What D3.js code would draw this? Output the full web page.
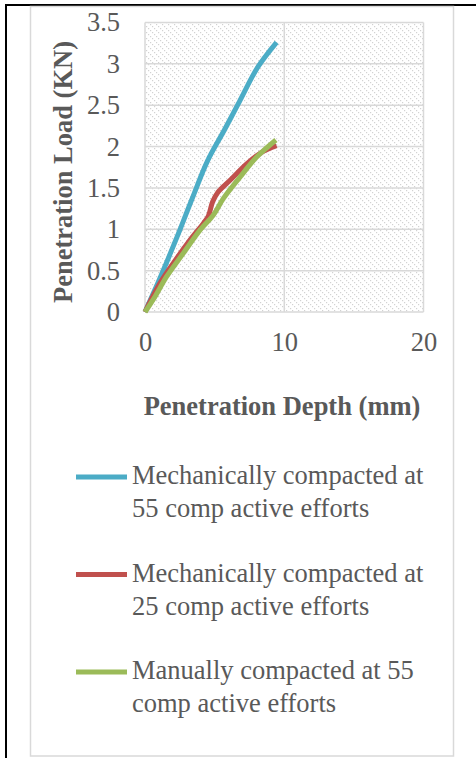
<!DOCTYPE html>
<html><head><meta charset="utf-8">
<script src="https://cdn.jsdelivr.net/npm/d3@7"></script>
<style>body{margin:0;background:#fff}svg{display:block}</style>
</head><body>
<svg id="c" width="476" height="758"></svg>
<script>
// ---- data ----
const xTicks = [0, 10, 20];
const yTicks = [0, 0.5, 1, 1.5, 2, 2.5, 3, 3.5];
const seriesNames = [
  ["Mechanically compacted at", "55 comp active efforts"],
  ["Mechanically compacted at", "25 comp active efforts"],
  ["Manually compacted at 55", "comp active efforts"]
];
const seriesColors = ["#4BACC6", "#C0504D", "#9BBB59"];
const depthMech55 = [0, 0.5, 1.05, 1.7, 2.5, 3.5, 4.5, 5.7, 6.8, 8.1, 9.45];
const loadMech55  = [0, 0.19, 0.4, 0.66, 0.99, 1.42, 1.83, 2.2, 2.55, 2.96, 3.26];
const depthMech25 = [0, 0.5, 1.08, 2.03, 3.23, 4.19, 4.55, 4.85, 5.2, 6.22, 7.3, 8.37, 9.45];
const loadMech25  = [0, 0.17, 0.35, 0.59, 0.87, 1.07, 1.16, 1.33, 1.44, 1.61, 1.79, 1.93, 2.01];
const depthMan55  = [0, 0.7, 1.56, 2.75, 3.95, 4.9, 5.62, 6.82, 8.0, 9.4];
const loadMan55   = [0, 0.18, 0.43, 0.71, 0.99, 1.17, 1.37, 1.63, 1.87, 2.08];

const series = [
  depthMech55.map((d, i) => [d, loadMech55[i]]),
  depthMech25.map((d, i) => [d, loadMech25[i]]),
  depthMan55.map((d, i) => [d, loadMan55[i]])
];

const svg = d3.select("#c");
const font = "'Times New Roman','Liberation Serif',serif";
const txt = "#595959";
const fs = 26.5;

// outer table-cell border
svg.append("line").attr("x1", 5).attr("x2", 476).attr("y1", 5).attr("y2", 5).attr("stroke", "#000").attr("stroke-width", 2);
svg.append("line").attr("x1", 6).attr("x2", 6).attr("y1", 4).attr("y2", 758).attr("stroke", "#000").attr("stroke-width", 2);
// chart area border
svg.append("rect").attr("x", 30.5).attr("y", 6.5).attr("width", 423).attr("height", 749.5)
  .attr("fill", "#fff").attr("stroke", "#d9d9d9").attr("stroke-width", 1.5);

// pattern
const defs = svg.append("defs");
const pat = defs.append("pattern").attr("id", "hatch").attr("patternUnits", "userSpaceOnUse")
  .attr("width", 6).attr("height", 6);
pat.append("rect").attr("width", 6).attr("height", 6).attr("fill", "#fff");
[[0,0],[2,2],[4,4]].forEach(([a,b]) => pat.append("rect").attr("x", a).attr("y", b).attr("width", 1.2).attr("height", 1.2).attr("fill", "#d2d2d2"));

const x = d3.scaleLinear().domain([0, 20]).range([145, 423.5]);
const y = d3.scaleLinear().domain([0, 3.5]).range([312, 22.5]);

svg.append("rect").attr("x", x(0)).attr("y", y(3.5)).attr("width", x(20) - x(0)).attr("height", y(0) - y(3.5))
  .attr("fill", "url(#hatch)");

// gridlines
const grid = svg.append("g");
grid.selectAll("line.h").data(yTicks).join("line")
  .attr("x1", x(0)).attr("x2", x(20)).attr("y1", d => y(d)).attr("y2", d => y(d))
  .attr("stroke", "#d9d9d9").attr("stroke-width", 1.5);
grid.selectAll("line.v").data(xTicks).join("line")
  .attr("x1", d => x(d)).attr("x2", d => x(d)).attr("y1", y(0)).attr("y2", y(3.5))
  .attr("stroke", "#d9d9d9").attr("stroke-width", 1.5);

// axes labels via d3 axes
const yAxis = svg.append("g").attr("transform", `translate(${x(0)},0)`)
  .call(d3.axisLeft(y).tickValues(yTicks).tickFormat(d3.format("")).tickSize(0).tickPadding(25));
const xAxis = svg.append("g").attr("transform", `translate(0,${y(0)})`)
  .call(d3.axisBottom(x).tickValues(xTicks).tickSize(0).tickPadding(20));
[yAxis, xAxis].forEach(g => {
  g.select(".domain").remove();
  g.selectAll("text").attr("font-family", font).attr("font-size", fs).attr("fill", txt);
});

// axis titles
svg.append("text").attr("x", 282).attr("y", 415).attr("text-anchor", "middle")
  .attr("font-family", font).attr("font-size", fs).attr("font-weight", "bold").attr("fill", txt)
  .text("Penetration Depth (mm)");
svg.append("text").attr("transform", "translate(72,172) rotate(-90)").attr("text-anchor", "middle")
  .attr("font-family", font).attr("font-size", fs).attr("font-weight", "bold").attr("fill", txt)
  .text("Penetration Load (KN)");

// lines
const line = d3.line().x(d => x(d[0])).y(d => y(d[1])).curve(d3.curveCatmullRom.alpha(0.5));
svg.append("g").selectAll("path").data(series).join("path")
  .attr("d", line).attr("fill", "none").attr("stroke", (d, i) => seriesColors[i])
  .attr("stroke-width", 5).attr("stroke-linejoin", "round").attr("stroke-linecap", "butt");

// legend
const legY = [477, 574.5, 672];
const leg = svg.append("g").selectAll("g").data(seriesNames).join("g")
  .attr("transform", (d, i) => `translate(0,${legY[i]})`);
leg.append("line").attr("x1", 76).attr("x2", 127).attr("y1", 0).attr("y2", 0)
  .attr("stroke", (d, i) => seriesColors[i]).attr("stroke-width", 5);
leg.each(function(d) {
  const t = d3.select(this).append("text").attr("font-family", font).attr("font-size", fs).attr("fill", txt);
  d.forEach((s, j) => t.append("tspan").attr("x", 132).attr("y", 7 + j * 33).text(s));
});
</script>
</body></html>
